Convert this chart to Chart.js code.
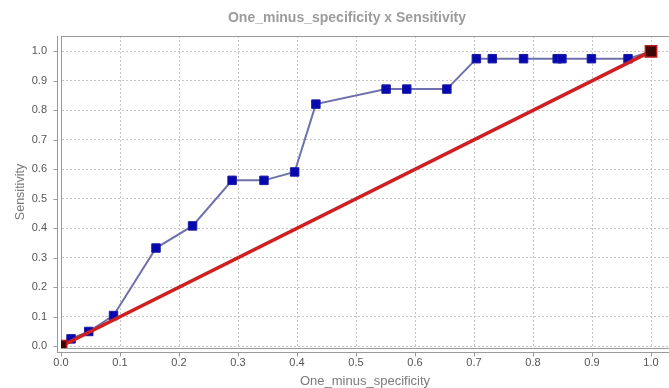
<!DOCTYPE html>
<html>
<head>
<meta charset="utf-8">
<script src="https://cdn.jsdelivr.net/npm/chart.js@4/dist/chart.umd.min.js"></script>
<style>
  html, body { margin: 0; padding: 0; background: #ffffff; }
  #wrap { width: 669px; height: 388px; }
</style>
</head>
<body>
<div id="wrap"><canvas id="roc" width="669" height="388"></canvas></div>
<script>
// ROC curve: false positive rate (1 - specificity) against sensitivity
const oneMinusSpecificity = [0, 0.017, 0.047, 0.089, 0.161, 0.223, 0.290, 0.344, 0.396, 0.432,
  0.551, 0.586, 0.654, 0.704, 0.731, 0.784, 0.841, 0.849, 0.899, 0.961, 1.0];
const sensitivity = [0, 0.025, 0.050, 0.104, 0.333, 0.408, 0.5625, 0.5625, 0.591, 0.821,
  0.872, 0.872, 0.872, 0.975, 0.975, 0.975, 0.975, 0.975, 0.975, 0.975, 1.0];

// chance diagonal
const diagonalX = [0, 1];
const diagonalY = [0, 1];

const tickValues = [0, 0.1, 0.2, 0.3, 0.4, 0.5, 0.6, 0.7, 0.8, 0.9, 1.0];
const tickLabels = ['0.0', '0.1', '0.2', '0.3', '0.4', '0.5', '0.6', '0.7', '0.8', '0.9', '1.0'];

const chartTitle = 'One_minus_specificity x Sensitivity';
const xAxisTitle = 'One_minus_specificity';
const yAxisTitle = 'Sensitivity';

const FONT = "'Liberation Sans', Arial, sans-serif";
const AXIS_GAP = 4;   // gap between plot frame and axis line
const TICK_LEN = 4;

function labelFor(value) {
  const i = tickValues.findIndex(v => Math.abs(v - value) < 1e-6);
  return i >= 0 ? tickLabels[i] : '';
}

function useFixedTicks(scale) {
  scale.ticks = tickValues.map(v => ({ value: v }));
}

// frame top line, offset axis lines with outward tick marks, and the chart title
const framePlugin = {
  id: 'frame',
  afterDraw(chart) {
    const { ctx, chartArea: a, scales } = chart;
    ctx.save();
    ctx.strokeStyle = '#9a9a9a';
    ctx.lineWidth = 1;
    ctx.beginPath();
    ctx.moveTo(a.left, a.top + 0.5);
    ctx.lineTo(a.right, a.top + 0.5);
    const lx = a.left - AXIS_GAP + 0.5;
    ctx.moveTo(lx, a.top);
    ctx.lineTo(lx, a.bottom + AXIS_GAP);
    const by = a.bottom + AXIS_GAP + 0.5;
    ctx.moveTo(a.left - AXIS_GAP, by);
    ctx.lineTo(a.right, by);
    tickValues.forEach(v => {
      const y = Math.round(scales.y.getPixelForValue(v)) + 0.5;
      ctx.moveTo(lx, y);
      ctx.lineTo(lx - TICK_LEN, y);
      const x = Math.round(scales.x.getPixelForValue(v)) + 0.5;
      ctx.moveTo(x, by);
      ctx.lineTo(x, by + TICK_LEN);
    });
    ctx.stroke();

    ctx.fillStyle = '#9c9c9c';
    ctx.font = 'bold 14px ' + FONT;
    ctx.textAlign = 'center';
    ctx.textBaseline = 'middle';
    ctx.fillText(chartTitle, 347, 18);
    ctx.restore();
  }
};

const ctx = document.getElementById('roc').getContext('2d');
new Chart(ctx, {
  type: 'scatter',
  data: {
    datasets: [
      {
        label: 'Diagonal',
        data: diagonalX.map((x, i) => ({ x, y: diagonalY[i] })),
        showLine: true,
        borderColor: '#cf2020',
        borderWidth: 3.5,
        pointStyle: 'rect',
        pointRadius: 8,
        pointBackgroundColor: '#3a0606',
        pointBorderColor: '#b81818',
        pointBorderWidth: 1.5,
        clip: 0,
        order: 0
      },
      {
        label: 'Sensitivity',
        data: oneMinusSpecificity.map((x, i) => ({ x, y: sensitivity[i] })),
        showLine: true,
        borderColor: 'rgb(112,112,172)',
        borderWidth: 2,
        pointStyle: 'rect',
        pointRadius: 6,
        pointBackgroundColor: '#0808b0',
        pointBorderColor: '#1c1ca4',
        pointBorderWidth: 1,
        clip: 0,
        order: 1
      }
    ]
  },
  options: {
    responsive: false,
    devicePixelRatio: 1,
    animation: false,
    layout: { autoPadding: false, padding: { top: 36, left: 0, right: 0, bottom: 0 } },
    plugins: {
      legend: { display: false },
      tooltip: { enabled: false },
      title: { display: false }
    },
    scales: {
      x: {
        type: 'linear',
        min: 0,
        max: 1.0305,
        afterBuildTicks: useFixedTicks,
        afterFit(scale) {
          scale.height = 40;
          scale.paddingLeft = 0;
          scale.paddingRight = 0;
        },
        grid: { color: '#c4c4c4', lineWidth: 1, drawTicks: false },
        border: { display: true, color: '#9a9a9a', width: 1, dash: [2, 2] },
        ticks: {
          autoSkip: false,
          maxRotation: 0,
          padding: 8,
          color: '#555555',
          font: { family: FONT, size: 11 },
          callback: v => labelFor(v)
        },
        title: {
          display: true,
          text: xAxisTitle,
          color: '#7a7a7a',
          font: { family: FONT, size: 13, lineHeight: 1 },
          padding: { top: 0, bottom: 0 }
        }
      },
      y: {
        type: 'linear',
        min: -0.006,
        max: 1.052,
        afterBuildTicks: useFixedTicks,
        afterFit(scale) {
          scale.width = 61;
          scale.paddingTop = 0;
          scale.paddingBottom = 0;
        },
        grid: { color: '#c4c4c4', lineWidth: 1, drawTicks: false },
        border: { display: true, color: '#9a9a9a', width: 1, dash: [2, 2] },
        ticks: {
          autoSkip: false,
          padding: 14,
          color: '#555555',
          font: { family: FONT, size: 11 },
          callback: v => labelFor(v)
        },
        title: {
          display: true,
          text: yAxisTitle,
          color: '#7a7a7a',
          font: { family: FONT, size: 12.5, lineHeight: 1.2 },
          padding: { top: 13, bottom: 0 }
        }
      }
    }
  },
  plugins: [framePlugin]
});
</script>
</body>
</html>
